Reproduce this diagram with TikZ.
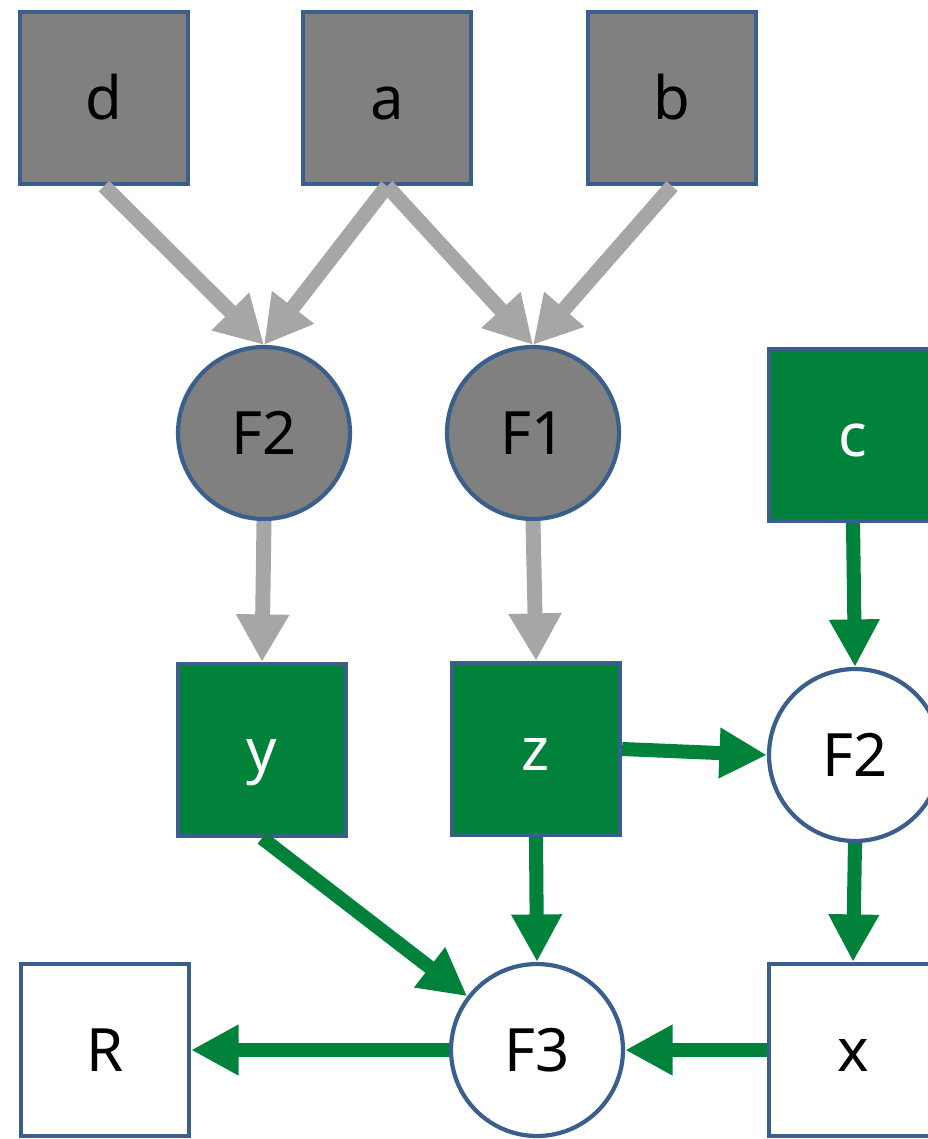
\documentclass[tikz,border=0pt]{standalone}
\usepackage{fontspec}
\setmainfont{Noto Sans}
\usetikzlibrary{shapes,arrows.meta,positioning}
\usepackage{xcolor}
\definecolor{edgeblue}{RGB}{58,95,140}
\definecolor{oldgray}{RGB}{128,128,128}
\definecolor{arrowgray}{RGB}{166,166,166}
\definecolor{newgreen}{RGB}{0,130,59}

\begin{document}
\begin{tikzpicture}[x=0.02cm,y=-0.02cm]
      \tikzstyle{var} = [rectangle, draw=edgeblue, line width=2.4pt, minimum width=3.36cm, minimum height=3.44cm, inner sep=0pt, text height=24pt, text depth=0pt, font=\fontsize{34}{40}\selectfont]
      \tikzstyle{oldvar} = [var, fill=oldgray]
      \tikzstyle{newvar} = [var, fill=newgreen, text=white]
      \tikzstyle{func} = [circle, draw=edgeblue, line width=2.4pt, minimum size=3.44cm, inner sep=0pt, text height=24pt, text depth=0pt, font=\fontsize{34}{40}\selectfont]
      \tikzstyle{oldflow} = [-{Triangle[width=1cm,length=0.95cm]}, line width=8.5pt, draw=arrowgray]
      \tikzstyle{newflow} = [-{Triangle[width=0.95cm,length=0.95cm]}, line width=8pt, draw=newgreen]

      \useasboundingbox (0,0) rectangle (927,1139);

      % old computation
      \node[oldvar] (d) at (104,98) {d};
      \node[oldvar] (a) at (387,98) {a};
      \node[oldvar] (b) at (672,98) {b};
      \node[func, fill=oldgray] (f2old) at (264,433) {F2};
      \node[func, fill=oldgray] (f1old) at (533,433) {F1};

      % new computation
      \node[newvar] (c) at (853,435) {c};
      \node[newvar] (y) at (262,750) {y};
      \node[newvar] (z) at (536,749) {z};
      \node[func, fill=white] (f2new) at (855,755) {F2};
      \node[var, fill=white] (R) at (105,1050) {R};
      \node[func, fill=white] (f3) at (537,1050) {F3};
      \node[var, fill=white] (x) at (853,1050) {x};

      \draw[oldflow] (d.south) -- (f2old.north);
      \draw[oldflow] (a.south) -- (f2old.north);
      \draw[oldflow] (a.south) -- (f1old.north);
      \draw[oldflow] (b.south) -- (f1old.north);
      \draw[oldflow] (f2old.south) -- (y.north);
      \draw[oldflow] (f1old.south) -- (z.north);

      \draw[newflow] (c.south) -- (f2new.north);
      \draw[newflow] (z.east) -- (f2new.west);
      \draw[newflow] (f2new.south) -- (x.north);
      \draw[newflow] (z.south) -- (f3.north);
      \draw[newflow] (y.south) -- (f3);
      \draw[newflow] (x.west) -- (f3.east);
      \draw[newflow] (f3.west) -- (R.east);
    \end{tikzpicture}
\end{document}
